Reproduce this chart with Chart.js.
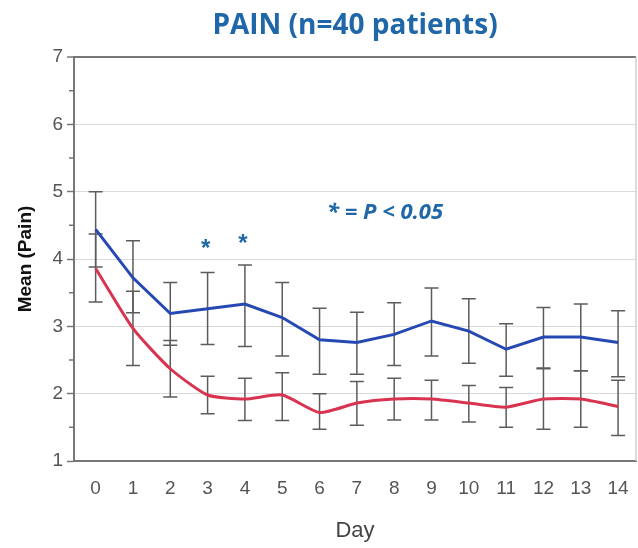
<!DOCTYPE html>
<html>
<head>
<meta charset="utf-8">
<script src="https://cdn.jsdelivr.net/npm/chart.js@4"></script>
<style>
  body { margin: 0; background: #fff; }
  #wrap { width: 638px; height: 548px; position: relative; }
</style>
</head>
<body>
<div id="wrap"><canvas id="painChart"></canvas></div>
<script>
// values
const days = [0, 1, 2, 3, 4, 5, 6, 7, 8, 9, 10, 11, 12, 13, 14];

const blueMean = [4.44, 3.72, 3.19, 3.26, 3.33, 3.13, 2.80, 2.76, 2.88, 3.08, 2.93, 2.66, 2.84, 2.84, 2.76];
const blueHi   = [5.00, 4.27, 3.65, 3.80, 3.91, 3.65, 3.27, 3.21, 3.35, 3.57, 3.41, 3.04, 3.28, 3.33, 3.23];
const blueLo   = [3.88, 3.20, 2.72, 2.73, 2.70, 2.56, 2.29, 2.29, 2.42, 2.56, 2.45, 2.26, 2.38, 2.34, 2.25];

const redMean  = [3.86, 2.97, 2.37, 1.98, 1.92, 1.98, 1.72, 1.86, 1.92, 1.92, 1.86, 1.80, 1.92, 1.92, 1.81];
const redHi    = [4.37, 3.52, 2.79, 2.26, 2.23, 2.31, 2.00, 2.18, 2.23, 2.20, 2.12, 2.09, 2.37, 2.34, 2.20];
const redLo    = [3.36, 2.42, 1.95, 1.70, 1.60, 1.60, 1.47, 1.53, 1.61, 1.61, 1.58, 1.50, 1.47, 1.50, 1.38];

const sigDays = [3, 4];
const sigLevel = [4.25, 4.32];
const yTicks = [1, 2, 3, 4, 5, 6, 7];

const BLUE = '#2648b2';
const RED = '#d8344f';
const TEXT_BLUE = '#1f67a8';

// error bars, frame, asterisks and the p-value note
const extras = {
  id: 'extras',
  beforeDatasetsDraw(chart) {
    const {ctx, chartArea, scales: {x, y}} = chart;
    ctx.save();
    // right frame line
    ctx.strokeStyle = '#cfcfcf';
    ctx.lineWidth = 1.5;
    ctx.beginPath();
    ctx.moveTo(chartArea.right, chartArea.top);
    ctx.lineTo(chartArea.right, chartArea.bottom);
    ctx.stroke();

    // short half-unit ticks on the y axis
    ctx.strokeStyle = '#777';
    ctx.beginPath();
    yTicks.slice(0, -1).forEach(v => {
      const py = y.getPixelForValue(v + 0.5);
      ctx.moveTo(chartArea.left - 5, py);
      ctx.lineTo(chartArea.left, py);
    });
    ctx.stroke();

    ctx.strokeStyle = '#5c5c5c';
    ctx.lineWidth = 1.5;
    const cap = 7;
    [[blueHi, blueLo], [redHi, redLo]].forEach(([hi, lo]) => {
      days.forEach((d, i) => {
        const px = x.getPixelForValue(d);
        const top = y.getPixelForValue(hi[i]);
        const bot = y.getPixelForValue(lo[i]);
        ctx.beginPath();
        ctx.moveTo(px, top); ctx.lineTo(px, bot);
        ctx.moveTo(px - cap, top); ctx.lineTo(px + cap, top);
        ctx.moveTo(px - cap, bot); ctx.lineTo(px + cap, bot);
        ctx.stroke();
      });
    });
    ctx.restore();
  },
  afterDatasetsDraw(chart) {
    const {ctx, scales: {x, y}} = chart;
    ctx.save();
    ctx.fillStyle = TEXT_BLUE;
    ctx.textAlign = 'center';
    ctx.textBaseline = 'alphabetic';
    const size = 24;
    ctx.font = 'bold ' + size + 'px "Liberation Sans", Arial, sans-serif';
    sigDays.forEach((d, i) => {
      ctx.fillText('*', x.getPixelForValue(d) - 2, y.getPixelForValue(sigLevel[i]) + size * 0.57);
    });
    ctx.textAlign = 'left';
    ctx.textBaseline = 'middle';
    ctx.font = 'italic bold 22px "Open Sans", sans-serif';
    ctx.fillText('* = P < 0.05', x.getPixelForValue(6.2), y.getPixelForValue(4.68));
    ctx.restore();
  }
};

const ctx = document.getElementById('painChart');
new Chart(ctx, {
  type: 'line',
  data: {
    datasets: [{
      label: 'Group A',
      data: blueMean.map((v, i) => ({x: days[i], y: v})),
      borderColor: BLUE,
      borderWidth: 3,
      pointRadius: 0,
      tension: 0
    }, {
      label: 'Group B',
      data: redMean.map((v, i) => ({x: days[i], y: v})),
      borderColor: RED,
      borderWidth: 3,
      pointRadius: 0,
      tension: 0.2
    }]
  },
  options: {
    responsive: true,
    maintainAspectRatio: false,
    animation: false,
    layout: { padding: { top: 0, right: 2, bottom: 0, left: 0 } },
    plugins: {
      legend: { display: false },
      tooltip: { enabled: false },
      title: {
        display: true,
        fullSize: false,
        text: 'PAIN (n=40 patients)',
        color: TEXT_BLUE,
        font: { family: '"Open Sans", sans-serif', size: 28, weight: 'bold' },
        padding: { top: 9.5, bottom: 13.9 }
      }
    },
    scales: {
      x: {
        type: 'linear',
        min: -0.58,
        max: 14.48,
        afterBuildTicks: (s) => { s.ticks = days.map(v => ({value: v})); },
        afterFit: (s) => { s.height = 87; },
        grid: { display: false },
        border: { display: true, color: '#777', width: 2 },
        ticks: {
          autoSkip: false,
          maxRotation: 0,
          padding: 8,
          color: '#555',
          font: { family: '"Liberation Sans", Arial, sans-serif', size: 19 }
        },
        title: {
          display: true,
          text: 'Day',
          color: '#444',
          font: { family: '"Liberation Sans", Arial, sans-serif', size: 22 },
          padding: { top: 0, bottom: 4 }
        }
      },
      y: {
        min: 1,
        max: 7,
        afterBuildTicks: (s) => { s.ticks = yTicks.map(v => ({value: v})); },
        afterFit: (s) => { s.width = 74; },
        border: { display: true, color: '#777', width: 2 },
        grid: {
          color: (c) => {
            const v = c.tick ? c.tick.value : 0;
            return v === 7 ? '#777' : '#dadada';
          },
          lineWidth: (c) => (c.tick && c.tick.value === 7 ? 2 : 1),
          tickColor: '#777',
          tickWidth: 1.5,
          tickLength: 7
        },
        ticks: {
          autoSkip: false,
          padding: 4,
          color: '#555',
          font: { family: '"Liberation Sans", Arial, sans-serif', size: 19 }
        },
        title: {
          display: true,
          text: 'Mean (Pain)',
          color: '#111',
          font: { family: '"Liberation Sans", Arial, sans-serif', size: 19, weight: 'bold' },
          padding: { top: 14, bottom: 0 }
        }
      }
    }
  },
  plugins: [extras]
});
</script>
</body>
</html>
